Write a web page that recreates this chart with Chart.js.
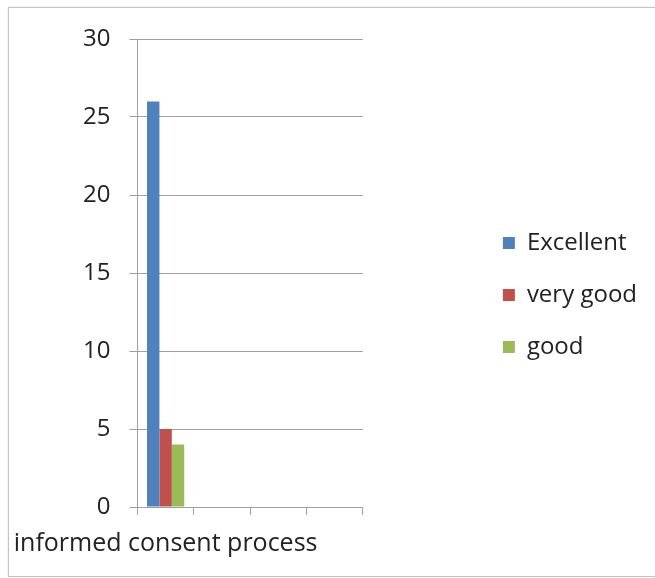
<!DOCTYPE html>
<html lang="en">
<head>
    <meta charset="UTF-8">
    <title>Informed consent process rating</title>
    <script src="https://cdn.jsdelivr.net/npm/chart.js"></script>
    <style>
        body { margin: 0; background: #fff; }
        #wrap { position: relative; width: 655px; height: 578px; }
        #frame {
            position: absolute; left: 8px; top: 7px; width: 660px; height: 568px;
            border: 1px solid #c4c4c4; box-shadow: 0 0 1px #d8d8d8; pointer-events: none;
        }
    </style>
</head>
<body>
    <div id="wrap">
        <canvas id="myChart" width="655" height="578"></canvas>
        <div id="frame"></div>
    </div>

    <script>
        // chart data
        var categories = ['informed consent process', '', '', ''];
        var excellent = [26, null, null, null];
        var veryGood = [5, null, null, null];
        var good = [4, null, null, null];

        var font = { family: "'Open Sans', sans-serif", size: 24 };
        var gridColor = '#a0a0a0';

        var ctx = document.getElementById('myChart').getContext('2d');
        var myChart = new Chart(ctx, {
            type: 'bar',
            data: {
                labels: categories,
                datasets: [
                    { label: 'Excellent', data: excellent, backgroundColor: '#4f81bd' },
                    { label: 'very good', data: veryGood, backgroundColor: '#c0504d' },
                    { label: 'good', data: good, backgroundColor: '#9bbb59' }
                ]
            },
            options: {
                responsive: false,
                animation: false,
                layout: { padding: { left: 64, top: 31, right: 8, bottom: 19 } },
                datasets: { bar: { categoryPercentage: 0.66, barPercentage: 1 } },
                plugins: {
                    tooltip: { enabled: false },
                    legend: {
                        position: 'right',
                        maxWidth: 220,
                        labels: {
                            font: font,
                            color: '#222',
                            boxWidth: 12,
                            boxHeight: 12,
                            padding: 28
                        }
                    }
                },
                scales: {
                    x: {
                        grid: {
                            drawOnChartArea: false,
                            color: gridColor,
                            tickLength: 8
                        },
                        border: { color: gridColor },
                        ticks: {
                            font: { family: font.family, size: 25 },
                            color: '#222',
                            maxRotation: 0,
                            minRotation: 0,
                            autoSkip: false,
                            padding: 14
                        },
                        // the long category label may run out past the y axis
                        afterFit: function (scale) {
                            scale.height = 52;
                            scale.paddingLeft = 0;
                        }
                    },
                    y: {
                        min: 0,
                        max: 30,
                        grid: { color: gridColor, tickLength: 8 },
                        border: { color: gridColor },
                        ticks: {
                            stepSize: 5,
                            font: font,
                            color: '#222',
                            padding: 19
                        },
                        // keep the plot top a little below the legend's top edge
                        afterFit: function (scale) { scale.paddingTop = 39; }
                    },
                    // empty right-hand axis keeping room between plot and legend
                    spacer: {
                        position: 'right',
                        grid: { display: false },
                        border: { display: false },
                        ticks: { display: false },
                        afterFit: function (scale) { scale.width = 112; }
                    }
                }
            }
        });
    </script>
</body>
</html>
